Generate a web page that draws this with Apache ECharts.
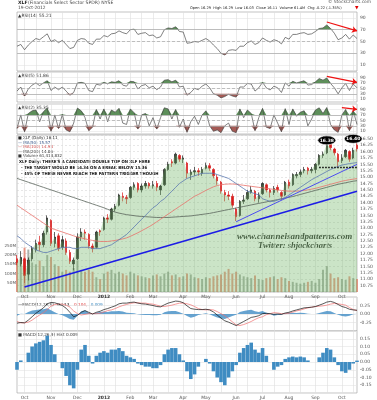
<!DOCTYPE html>
<html>
<head>
<meta charset="utf-8">
<script src="https://cdn.jsdelivr.net/npm/echarts@6/dist/echarts.min.js"></script>
<style>
html, body { margin: 0; padding: 0; background: #fff; }
#echart1 { width: 377px; height: 400px; }
</style>
</head>
<body>
<div id="echart1"></div>
<script>
// 月份刻度（每点约3个交易日）
var monthIdx = [2, 9, 16, 23, 30, 36, 44, 50, 58, 65, 72, 79, 86];
var monthLbl = ['Oct', 'Nov', 'Dec', '2012', 'Feb', 'Mar', 'Apr', 'May', 'Jun', 'Jul', 'Aug', 'Sep', 'Oct'];
var gridIdx = [2, 5, 9, 12, 16, 19, 23, 26, 30, 33, 36, 40, 44, 47, 50, 54, 58, 61, 65, 68, 72, 75, 79, 82, 86, 89];

// 价格
var openP = [11.80,11.60,11.80,11.20,11.80,12.15,12.45,12.35,12.85,13.30,
	12.40,12.70,12.25,12.50,12.05,11.60,11.80,12.65,12.85,12.75,
	12.30,12.25,12.90,12.95,13.40,13.35,13.75,13.90,14.25,14.20,
	14.20,14.60,14.75,14.50,14.65,14.75,14.65,14.75,14.50,14.70,
	15.30,15.60,15.55,15.85,15.70,15.55,15.10,15.20,15.25,15.15,
	15.35,15.45,15.30,15.00,14.80,14.40,14.30,14.25,13.75,13.50,
	14.05,14.15,14.40,14.45,14.15,14.35,14.70,14.50,14.40,14.60,
	14.40,14.30,14.80,14.70,15.05,15.10,15.25,15.35,15.25,15.30,
	15.50,15.85,15.95,16.30,16.10,15.90,15.65,15.80,16.00,15.75,
	16.25];
var closeP = [11.65,11.85,11.15,11.75,12.20,12.40,12.35,12.80,13.40,12.40,
	12.65,12.20,12.55,12.05,11.70,11.75,12.65,12.85,12.80,12.30,
	12.20,12.85,12.85,13.40,13.35,13.75,13.85,14.30,14.20,14.15,
	14.60,14.70,14.50,14.65,14.75,14.65,14.70,14.60,14.65,15.30,
	15.50,15.55,15.90,15.70,15.75,15.15,15.20,15.25,15.20,15.30,
	15.45,15.35,15.05,14.85,14.45,14.30,14.25,13.90,13.45,14.05,
	14.10,14.40,14.50,14.15,14.30,14.75,14.50,14.40,14.55,14.50,
	14.25,14.80,14.65,15.10,15.10,15.20,15.30,15.25,15.30,15.50,
	15.85,15.90,16.30,16.15,15.95,15.60,15.75,16.05,15.70,16.05,
	16.11];
var highP = [11.95,12.10,11.85,11.85,12.30,12.55,12.70,12.90,13.50,13.35,
	12.85,12.80,12.70,12.60,12.15,11.85,12.80,13.00,12.95,12.80,
	12.40,12.90,12.95,13.45,13.55,13.80,13.95,14.35,14.40,14.30,
	14.65,14.80,14.80,14.75,14.85,14.80,14.85,14.85,14.70,15.35,
	15.60,15.70,15.96,15.90,15.85,15.60,15.30,15.40,15.35,15.40,
	15.57,15.55,15.35,15.10,14.85,14.50,14.45,14.35,13.80,14.10,
	14.30,14.50,14.65,14.50,14.40,14.80,14.75,14.55,14.65,14.70,
	14.45,14.85,14.90,15.15,15.20,15.30,15.40,15.40,15.40,15.55,
	15.90,16.00,16.35,16.35,16.15,15.95,15.90,16.10,16.05,16.15,
	16.38];
var lowP = [11.55,11.50,10.85,10.95,11.70,12.05,12.10,12.25,12.75,12.30,
	12.25,12.10,12.15,11.95,11.60,11.35,11.75,12.50,12.55,12.20,
	12.05,12.20,12.70,12.90,13.20,13.30,13.65,13.85,14.05,13.95,
	14.15,14.50,14.40,14.40,14.55,14.55,14.55,14.45,14.30,14.65,
	15.25,15.40,15.50,15.60,15.55,14.95,14.89,15.05,15.05,15.05,
	15.30,15.25,14.95,14.70,14.35,14.05,14.10,13.80,13.28,13.45,
	13.95,14.10,14.35,14.05,14.00,14.30,14.40,14.20,14.30,14.40,
	14.10,14.25,14.55,14.65,14.95,15.00,15.15,15.10,15.15,15.15,
	15.45,15.75,15.90,16.05,15.85,15.40,15.55,15.75,15.60,15.70,
	16.00];
// 成交量（百万）
var volM = [170,190,240,230,160,150,170,140,200,190,
	150,140,110,120,110,130,170,120,110,120,
	110,80,70,100,110,120,100,110,100,90,
	110,100,90,85,80,75,90,95,85,100,
	110,90,95,80,85,100,95,80,75,70,
	80,75,85,90,95,110,125,100,110,95,
	85,80,75,90,70,65,75,80,85,70,
	80,75,60,55,50,45,50,55,60,50,
	70,120,140,100,75,80,70,65,85,75,
	70];
// 均线
var ma50 = [12.70,12.60,12.45,12.35,12.25,12.15,12.10,12.05,12.05,
	12.10,12.15,12.20,12.25,12.25,12.25,12.20,12.20,
	12.25,12.25,12.25,12.20,12.20,12.20,
	12.25,12.30,12.35,12.45,12.55,12.65,12.75,
	12.90,13.05,13.20,13.35,13.50,13.65,13.80,
	13.90,14.05,14.15,14.30,14.45,14.60,14.75,
	14.85,14.95,15.00,15.05,15.10,15.15,15.15,
	15.15,15.15,15.10,15.05,15.00,14.95,14.85,
	14.75,14.65,14.55,14.45,14.40,14.35,14.30,
	14.15,14.10,14.05,14.05,14.10,14.15,14.20,
	14.30,14.40,14.50,14.60,14.70,14.80,14.90,14.98,
	15.06,15.14,15.22,15.30,15.36,15.42,
	15.47,15.50,15.53,15.55,15.57];
var ma100 = [13.90,13.80,13.70,13.60,13.50,13.40,13.30,13.20,13.10,
	13.00,12.95,12.90,12.85,12.80,12.75,12.70,12.65,
	12.62,12.58,12.55,12.52,12.50,12.48,
	12.48,12.48,12.50,12.52,12.55,12.58,12.62,
	12.68,12.75,12.82,12.90,12.98,13.06,13.15,
	13.25,13.35,13.45,13.55,13.65,13.75,13.85,
	13.95,14.05,14.15,14.25,14.32,14.40,14.48,
	14.55,14.62,14.67,14.70,14.72,14.73,14.73,
	14.72,14.70,14.68,14.66,14.64,14.62,14.60,
	14.58,14.56,14.54,14.52,14.50,14.48,14.46,
	14.45,14.45,14.45,14.46,14.48,14.50,14.53,14.56,
	14.60,14.64,14.68,14.72,14.76,14.80,
	14.84,14.87,14.90,14.92,14.94];
var ma200 = [14.95,14.90,14.85,14.80,14.75,14.70,14.65,14.60,14.55,
	14.50,14.45,14.40,14.35,14.30,14.25,14.20,14.15,
	14.10,14.05,14.00,13.95,13.90,13.85,
	13.80,13.74,13.68,13.63,13.59,13.56,13.53,
	13.51,13.49,13.47,13.46,13.45,13.44,13.43,
	13.42,13.42,13.42,13.42,13.43,13.44,13.45,
	13.46,13.47,13.48,13.50,13.52,13.54,13.56,
	13.58,13.61,13.64,13.67,13.70,13.73,13.76,
	13.79,13.82,13.85,13.88,13.91,13.94,13.97,
	14.00,14.03,14.06,14.09,14.12,14.15,14.18,
	14.21,14.24,14.28,14.32,14.36,14.40,14.44,14.48,
	14.52,14.56,14.60,14.64,14.68,14.72,
	14.75,14.78,14.81,14.84,14.86];
// RSI
var rsi14 = [42,45,36,44,50,55,53,58,63,50,53,48,52,45,38,40,52,55,54,47,
	45,54,54,60,58,63,64,68,65,63,70,71,62,64,65,60,61,56,58,70,
	73,72,75,67,66,47,48,50,49,52,55,51,44,38,30,27,35,36,35,42,
	42,48,51,45,48,56,52,49,53,51,46,57,54,62,62,64,65,62,63,67,
	72,73,78,72,64,53,56,62,54,61,55];
var rsi5 = [40,55,22,48,62,70,60,70,78,42,55,45,55,40,25,35,70,72,68,42,
	38,65,62,72,66,74,72,78,62,58,76,74,48,60,64,52,58,45,55,80,
	82,74,80,55,58,25,35,50,45,58,66,52,30,25,15,20,28,22,18,55,
	55,68,66,40,52,72,52,44,58,52,35,70,58,76,70,74,78,62,64,74,
	86,80,88,68,52,30,52,68,42,66,52];
var rsi2 = [20,70,8,75,85,88,45,82,95,10,70,20,72,15,8,40,95,85,60,12,
	25,90,55,92,45,88,80,94,40,35,92,78,18,70,75,30,60,18,60,96,
	92,55,90,25,55,6,45,65,35,70,85,30,10,15,5,30,40,10,5,92,
	60,88,75,12,60,94,25,20,70,40,8,93,35,92,65,80,85,30,55,88,
	96,75,97,35,15,6,70,90,12,85,35];
// MACD
var macdL = [-0.27,-0.25,-0.26,-0.18,-0.08,0.02,0.10,0.18,0.30,0.34,
	0.33,0.29,0.25,0.17,0.05,-0.08,-0.04,0.05,0.10,0.05,
	0.00,0.05,0.08,0.13,0.16,0.20,0.24,0.30,0.32,0.32,
	0.34,0.35,0.32,0.30,0.29,0.27,0.25,0.22,0.21,0.27,
	0.32,0.35,0.38,0.37,0.33,0.24,0.16,0.14,0.13,0.13,
	0.14,0.12,0.06,-0.03,-0.12,-0.20,-0.24,-0.29,-0.34,-0.28,
	-0.22,-0.16,-0.10,-0.08,-0.05,0.01,0.02,0.01,-0.01,0.00,
	-0.01,0.03,0.05,0.09,0.12,0.15,0.18,0.19,0.20,0.22,
	0.26,0.30,0.35,0.37,0.34,0.28,0.22,0.19,0.14,0.12,
	0.11];
var signalL = [-0.22,-0.26,-0.26,-0.24,-0.18,-0.10,-0.03,0.04,0.13,0.23,
	0.28,0.29,0.29,0.26,0.20,0.09,0.01,-0.03,-0.01,0.01,
	0.01,0.01,0.02,0.06,0.10,0.12,0.16,0.21,0.25,0.28,
	0.31,0.33,0.33,0.32,0.32,0.30,0.29,0.26,0.23,0.22,
	0.24,0.26,0.29,0.32,0.32,0.30,0.27,0.22,0.16,0.13,
	0.12,0.13,0.12,0.07,0.01,-0.05,-0.14,-0.23,-0.32,-0.34,
	-0.31,-0.27,-0.22,-0.16,-0.11,-0.08,-0.02,0.01,0.04,0.03,
	0.01,0.01,0.02,0.055,0.09,0.115,0.15,0.18,0.20,0.22,
	0.23,0.24,0.26,0.29,0.31,0.30,0.28,0.26,0.19,0.13,
	0.10];
var histL = [-0.05,0.01,0.00,0.06,0.10,0.12,0.13,0.14,0.17,0.11,
	0.05,0.00,-0.04,-0.09,-0.15,-0.17,-0.05,0.08,0.11,0.04,
	-0.01,0.04,0.06,0.07,0.06,0.08,0.08,0.09,0.07,0.04,
	0.03,0.02,-0.01,-0.02,-0.03,-0.03,-0.04,-0.04,-0.02,0.05,
	0.08,0.09,0.09,0.05,0.01,-0.06,-0.11,-0.08,-0.03,0.00,
	0.02,-0.01,-0.06,-0.10,-0.13,-0.15,-0.10,-0.06,-0.02,0.06,
	0.09,0.11,0.125,0.08,0.06,0.09,0.04,0.00,-0.05,-0.03,
	-0.02,0.02,0.03,0.035,0.03,0.035,0.03,0.01,0.00,0.00,
	0.03,0.06,0.09,0.08,0.03,-0.02,-0.06,-0.07,-0.05,-0.01,
	0.009];

var FONT = '"DejaVu Sans", Verdana, sans-serif';
var NARROW = '"Liberation Sans Narrow", "DejaVu Sans Condensed", sans-serif';
var SERIF = '"Liberation Serif", "DejaVu Serif", serif';
var L = 17, R = 20;

function chartDiv() {
	var days = [];
	var candle = [];
	var vols = [];
	for (var i = 0; i < closeP.length; i++) {
		days.push(String(i));
		candle.push([openP[i], closeP[i], lowP[i], highP[i]]);
		vols.push({
			value : volM[i],
			itemStyle : {
				color : closeP[i] < openP[i] ? 'rgba(226,120,100,0.75)' : 'rgba(115,125,112,0.6)'
			}
		});
	}

	var grids = [
		{ top : 12, height : 59 },// RSI14
		{ top : 72, height : 30 },// RSI5
		{ top : 104, height : 30 },// RSI2
		{ top : 135, height : 157 },// 价格
		{ top : 297, height : 34 },// MACD
		{ top : 331, height : 62 } // 柱状
	];
	var gridOpt = [];
	var xAxes = [];
	for (var g = 0; g < grids.length; g++) {
		gridOpt.push({
			left : L, right : R, top : grids[g].top, height : grids[g].height,
			show : true, borderColor : '#9a9a9a', borderWidth : 0.6
		});
		xAxes.push({
			type : 'category', gridIndex : g, data : days, boundaryGap : false,
			axisLine : { show : false }, axisTick : { show : false },
			axisLabel : {
				show : g == 3 || g == 5,
				interval : function(idx) { return monthIdx.indexOf(idx) >= 0; },
				formatter : function(v, idx) {
					var k = monthIdx.indexOf(Number(v));
					if (k < 0) return '';
					return monthLbl[k] == '2012' ? '{b|2012}' : monthLbl[k];
				},
				rich : { b : { fontWeight : 'bold', fontSize : 4.5, fontFamily : FONT, color : '#333' } },
				fontSize : 4.5, fontFamily : FONT, color : '#555', margin : 2
			},
			splitLine : {
				show : true,
				interval : function(idx) { return gridIdx.indexOf(idx) >= 0; },
				lineStyle : { color : '#dedede', width : 0.6 }
			}
		});
	}

	var rsiAxis = function(g, max) {
		return {
			type : 'value', gridIndex : g, position : 'right', min : 0, max : max, interval : 10,
			axisLine : { show : false }, axisTick : { show : false },
			axisLabel : {
				formatter : function(v) { return (v % 20 == 10 && v < 100) ? v : ''; },
				fontSize : 4.5, fontFamily : FONT, color : '#555', margin : 3
			},
			splitLine : { show : true, lineStyle : { color : ['transparent', '#e4e4e4'], width : 0.6 } }
		};
	};

	var yAxes = [
		rsiAxis(0, 100), rsiAxis(1, 110), rsiAxis(2, 110),
		{// 价格
			type : 'value', gridIndex : 3, position : 'right', min : 10.5, max : 16.65, interval : 0.25,
			axisLine : { show : false }, axisTick : { show : false },
			axisLabel : {
				formatter : function(v) { return (v >= 10.7 && v <= 16.55) ? v.toFixed(2) : ''; },
				fontSize : 4.5, fontFamily : FONT, color : '#555', margin : 3
			},
			splitLine : { show : true, lineStyle : { color : '#cfcfcf', width : 0.5, type : [2, 2] } }
		},
		{// 成交量
			type : 'value', gridIndex : 3, position : 'left', min : 0, max : 850, interval : 50,
			axisLine : { show : false }, axisTick : { show : false },
			axisLabel : {
				formatter : function(v) { return (v > 0 && v <= 250) ? v + 'M' : ''; },
				fontSize : 4.2, fontFamily : FONT, color : '#555', margin : 1
			},
			splitLine : { show : false }
		},
		{// MACD
			type : 'value', gridIndex : 4, position : 'right', min : -0.5, max : 0.5, interval : 0.25,
			axisLine : { show : false }, axisTick : { show : false },
			axisLabel : {
				formatter : function(v) { return Math.abs(v) < 0.4 ? (Math.abs(v) < 1e-6 ? '0.00' : v.toFixed(2)) : ''; },
				fontSize : 4.5, fontFamily : FONT, color : '#555', margin : 3
			},
			splitLine : { show : true, lineStyle : { color : '#e0e0e0', width : 0.6 } }
		},
		{// 柱状
			type : 'value', gridIndex : 5, position : 'right', min : -0.2, max : 0.2, interval : 0.05,
			axisLine : { show : false }, axisTick : { show : false },
			axisLabel : {
				formatter : function(v) { return Math.abs(v) < 0.19 ? (Math.abs(v) < 1e-6 ? '0.00' : v.toFixed(2)) : ''; },
				fontSize : 4.5, fontFamily : FONT, color : '#555', margin : 3
			},
			splitLine : { show : true, lineStyle : { color : '#e4e4e4', width : 0.6 } }
		}
	];

	var series = [];
	// RSI 三个面板
	var rsiSet = [rsi14, rsi5, rsi2];
	var arrows = [
		[[82, 83], [90, 68]],
		[[82, 94], [90, 72]],
		[[86, 97], [90, 90]]
	];
	for (var k = 0; k < 3; k++) {
		var arr = rsiSet[k];
		series.push({
			type : 'line', xAxisIndex : k, yAxisIndex : k, symbol : 'none', silent : true,
			data : arr.map(function(v) { return Math.max(v, 70); }),
			lineStyle : { width : 0 }, areaStyle : { origin : 70, color : '#5d8f5a', opacity : 1 }
		});
		series.push({
			type : 'line', xAxisIndex : k, yAxisIndex : k, symbol : 'none', silent : true,
			data : arr.map(function(v) { return Math.min(v, 30); }),
			lineStyle : { width : 0 }, areaStyle : { origin : 30, color : '#a65a55', opacity : 1 }
		});
		series.push({
			type : 'line', xAxisIndex : k, yAxisIndex : k, symbol : 'none', silent : true,
			data : arr, lineStyle : { color : '#4a4a4a', width : 0.7 },
			markLine : {
				silent : true, symbol : 'none', label : { show : false },
				lineStyle : { color : '#a8a8a8', width : 0.7, type : 'solid' },
				data : [{ yAxis : 70 }, { yAxis : 30 }, { yAxis : 50, lineStyle : { type : [3, 2] } }]
			}
		});
		series.push({// 红色箭头
			type : 'line', xAxisIndex : k, yAxisIndex : k, symbol : 'none', silent : true,
			data : arr, lineStyle : { opacity : 0 },
			markLine : {
				silent : true, symbol : ['none', 'arrow'], symbolSize : 5, label : { show : false },
				lineStyle : { color : '#ee1111', width : 1.2, type : 'solid' },
				data : [[{ coord : arrows[k][0] }, { coord : arrows[k][1] }]]
			}
		});
	}

	// 价格面积
	series.push({
		type : 'line', xAxisIndex : 3, yAxisIndex : 3, symbol : 'none', silent : true,
		data : closeP, lineStyle : { width : 0 },
		areaStyle : { origin : 'start', color : 'rgba(120,185,110,0.55)' }
	});
	// 成交量
	series.push({
		type : 'bar', xAxisIndex : 3, yAxisIndex : 4, silent : true, barWidth : 2, data : vols
	});
	// 均线
	series.push({ type : 'line', xAxisIndex : 3, yAxisIndex : 3, symbol : 'none', silent : true,
		data : ma200, lineStyle : { color : '#59635a', width : 0.8 } });
	series.push({ type : 'line', xAxisIndex : 3, yAxisIndex : 3, symbol : 'none', silent : true,
		data : ma100, lineStyle : { color : '#e8706a', width : 0.8 } });
	series.push({ type : 'line', xAxisIndex : 3, yAxisIndex : 3, symbol : 'none', silent : true,
		data : ma50, lineStyle : { color : '#5c79b0', width : 0.8 } });
	// K线 + 趋势线 + 标注
	series.push({
		type : 'candlestick', xAxisIndex : 3, yAxisIndex : 3, silent : true, barWidth : 2,
		data : candle,
		itemStyle : { color : '#222', color0 : '#d81c1c', borderColor : '#222', borderColor0 : '#d81c1c', borderWidth : 0.7 },
		markLine : {
			silent : true, symbol : 'none', label : { show : false },
			data : [
				[{ coord : [2, 10.70], lineStyle : { color : '#1c1ce6', width : 1.6, type : 'solid' } }, { coord : [90, 14.45] }],
				[{ coord : [58, 13.25], lineStyle : { color : '#4d4df0', width : 1, type : 'solid' } }, { coord : [90, 15.50] }],
				[{ coord : [80, 15.40], lineStyle : { color : '#000', width : 1.4, type : [1.5, 1.5] } }, { coord : [90, 15.40] }]
			]
		},
		markPoint : {
			silent : true, symbol : 'circle', symbolSize : [18, 9],
			itemStyle : { color : '#000', borderColor : '#fff', borderWidth : 0.6 },
			label : { show : true, color : '#fff', fontSize : 4.5, fontFamily : FONT, fontWeight : 'bold',
				formatter : function(p) { return p.data.name; } },
			data : [
				{ name : '16.38', coord : [82, 16.44] },
				{ name : '16.40', coord : [89, 16.50] }
			]
		}
	});

	// MACD
	series.push({ type : 'line', xAxisIndex : 4, yAxisIndex : 5, symbol : 'none', silent : true,
		data : histL, lineStyle : { width : 0 }, areaStyle : { color : '#4b93c8', opacity : 0.85 } });
	series.push({ type : 'line', xAxisIndex : 4, yAxisIndex : 5, symbol : 'none', silent : true,
		data : signalL, lineStyle : { color : '#f07070', width : 0.7 } });
	series.push({ type : 'line', xAxisIndex : 4, yAxisIndex : 5, symbol : 'none', silent : true,
		data : macdL, lineStyle : { color : '#111', width : 0.7 } });
	// MACD 柱状
	series.push({ type : 'bar', xAxisIndex : 5, yAxisIndex : 6, silent : true, barWidth : 3.6,
		data : histL, itemStyle : { color : '#3f8cc2' } });

	var txt = function(x, y, s, size, color, weight, family, italic) {
		return {
			type : 'text', left : x, top : y, silent : true,
			style : { text : s, fontSize : size, fill : color || '#333', fontWeight : weight || 'normal',
				fontFamily : family || FONT, fontStyle : italic ? 'italic' : 'normal' }
		};
	};

	var graphic = [
		txt(18, 0, 'XLF', 4.6, '#222', 'bold'),
		txt(28, 0, '(Financials Select Sector SPDR) NYSE', 4.6, '#444'),
		txt(18, 6, '19-Oct-2012', 4.4, '#444'),
		txt(328, 0, '\u00a9 StockCharts.com', 4.4, '#555'),
		txt(190, 6, 'Open 16.29  High 16.29  Low 16.03  Close 16.11  Volume 61.4M  Chg -0.22 (-1.35%)', 3.6, '#222'),
		txt(355, 5.5, '\u25bc', 4.6, '#e00000'),
		txt(18, 14, '\u25b2RSI(14) 55.21', 4.4, '#333'),
		txt(18, 74, '\u25b2RSI(5) 51.86', 4.4, '#333'),
		txt(18, 106, '\u25b2RSI(2) 35.35', 4.4, '#333'),
		txt(18, 136, '\u25a0 XLF (Daily) 16.11', 4, '#222'),
		txt(18, 140.5, '\u2014 MA(50) 15.57', 4, '#3b5a8c'),
		txt(18, 145, '\u2014 MA(100) 14.94', 4, '#d04848'),
		txt(18, 149.5, '\u2014 MA(200) 14.86', 4, '#333'),
		txt(18, 154, '\u25a0 Volume 61,418,832', 4, '#333'),
		txt(19, 160, 'XLF Daily: THERE\'S A CANDIDATE DOUBLE TOP ON XLF HERE', 4.3, '#111', 'bold', NARROW),
		txt(21, 166, '- THE TARGET WOULD BE 14.34 ON A BREAK BELOW 15.36', 4.3, '#111', 'bold', NARROW),
		txt(21, 172, '- 45% OF THESE NEVER REACH THE PATTERN TRIGGER THOUGH', 4.3, '#111', 'bold', NARROW),
		txt(237, 232, 'www.channelsandpatterns.com', 9, '#2a2a2a', 'bold', SERIF, true),
		txt(258, 241.5, 'Twitter: shjackcharts', 8.5, '#2a2a2a', 'bold', SERIF, true),
		{
			type : 'text', left : 18, top : 299, silent : true,
			style : {
				text : '{a|\u2014MACD(12,26,9)} {b|0.113,} {c|0.104,} {d|0.009}',
				rich : {
					a : { fontSize : 4.2, fontFamily : FONT, fill : '#333' },
					b : { fontSize : 4.2, fontFamily : FONT, fill : '#111' },
					c : { fontSize : 4.2, fontFamily : FONT, fill : '#e04040' },
					d : { fontSize : 4.2, fontFamily : FONT, fill : '#3f8cc2' }
				}
			}
		},
		txt(18, 333, '\u25a0 MACD(12,26,9) Hist 0.009', 4.2, '#333')
	];

	option = {
		animation : false,
		backgroundColor : '#fff',
		grid : gridOpt,
		xAxis : xAxes,
		yAxis : yAxes,
		series : series,
		graphic : graphic
	};
	var myCharts1 = echarts.init(document.getElementById('echart1'), null, { renderer : 'canvas' });
	myCharts1.setOption(option, true);
}

chartDiv();
</script>
</body>
</html>
